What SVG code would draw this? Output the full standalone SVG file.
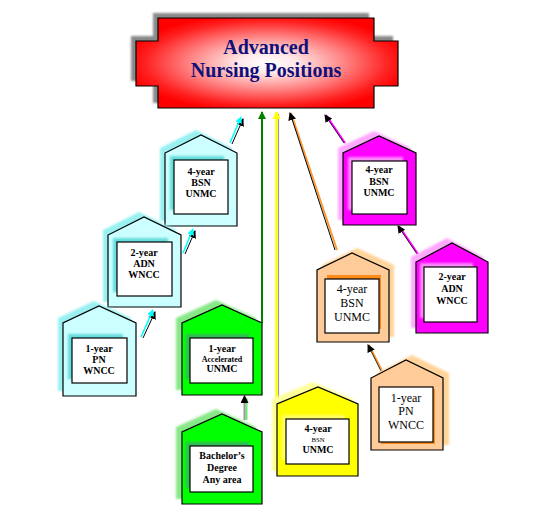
<svg xmlns="http://www.w3.org/2000/svg" width="534" height="508" viewBox="0 0 534 508">
<defs>
<radialGradient id="redGrad" cx="0.5" cy="0.5" r="0.55">
<stop offset="0" stop-color="#ffffff"/>
<stop offset="0.2" stop-color="#ffe8e8"/>
<stop offset="0.55" stop-color="#ff8080"/>
<stop offset="0.85" stop-color="#ff2020"/>
<stop offset="1" stop-color="#ff0000"/>
</radialGradient>
<filter id="soft" x="-20%" y="-20%" width="140%" height="140%">
<feGaussianBlur stdDeviation="1.3"/>
</filter>
<marker id="hCyan" viewBox="0 0 8 8" refX="7" refY="4" markerWidth="7" markerHeight="7" markerUnits="userSpaceOnUse" orient="auto">
<path d="M0,0 L8,4 L0,8 z" fill="#00ffff"/>
</marker>
<marker id="hGreen" viewBox="0 0 8 8" refX="7" refY="4" markerWidth="8" markerHeight="8" markerUnits="userSpaceOnUse" orient="auto">
<path d="M0,0 L8,4 L0,8 z" fill="#008000"/>
</marker>
<marker id="hYellow" viewBox="0 0 8 8" refX="7" refY="4" markerWidth="8" markerHeight="8" markerUnits="userSpaceOnUse" orient="auto">
<path d="M0,0 L8,4 L0,8 z" fill="#ffff00"/>
</marker>
<marker id="hBlack" viewBox="0 0 8 8" refX="7" refY="4" markerWidth="8" markerHeight="8" markerUnits="userSpaceOnUse" orient="auto">
<path d="M0,0 L8,4 L0,8 z" fill="#000000"/>
</marker>
</defs>
<style>
.house { stroke:#000; stroke-width:1.2; }
.inner { fill:#fff; stroke:#000; stroke-width:1.2; }
.sh { filter:url(#soft); }
.cyan { fill:#ccffff; } .cyanS { fill:#99f0f0; } .cyanI { fill:#66dddd; }
.green { fill:#00ff00; } .greenS { fill:#88e888; } .greenI { fill:#33bb55; }
.yellow { fill:#ffff00; } .yellowS { fill:#ffff99; } .yellowI { fill:#ffff66; }
.peach { fill:#ffcc99; } .peachS { fill:#ffd49a; } .peachI { fill:#ff8c1a; }
.mag { fill:#ff00ff; } .magS { fill:#ffa8ff; } .magI { fill:#ff88ff; }
.t { font-family:"Liberation Serif","Times New Roman",serif; font-size:10px; font-weight:bold; text-anchor:middle; fill:#000; }
.tr { font-size:12px; font-weight:normal; }
.ts { font-size:8px; }
.tn { font-size:6.8px; font-weight:normal; }
.title { font-family:"Liberation Serif","Times New Roman",serif; font-size:20px; font-weight:bold; text-anchor:middle; fill:#10107a; }
.ln { fill:none; stroke-linecap:butt; }
</style>

<g id="title">
<polygon class="sh" fill="#8a8a8a" transform="translate(-5,-5)" points="158,18 374,18 374,41 398,41 398,86 374,86 374,108 158,108 158,86 136,86 136,41 158,41"/>
<polygon fill="url(#redGrad)" stroke="#000" stroke-width="1.2" points="158,18 374,18 374,41 398,41 398,86 374,86 374,108 158,108 158,86 136,86 136,41 158,41"/>
<text class="title" x="266" y="54">Advanced</text>
<text class="title" x="266" y="77">Nursing Positions</text>
</g>

<g id="connectors">
<line class="ln" x1="143" y1="338" x2="155" y2="312" stroke="#000" stroke-width="1" marker-end="url(#hBlack)"/>
<line class="ln" x1="141" y1="337" x2="153" y2="310" stroke="#00ffff" stroke-width="1.6" marker-end="url(#hCyan)"/>
<line class="ln" x1="185" y1="254" x2="195" y2="231" stroke="#000" stroke-width="1" marker-end="url(#hBlack)"/>
<line class="ln" x1="183" y1="253" x2="193" y2="229" stroke="#00ffff" stroke-width="1.6" marker-end="url(#hCyan)"/>
<line class="ln" x1="232" y1="144" x2="243" y2="119" stroke="#000" stroke-width="1" marker-end="url(#hBlack)"/>
<line class="ln" x1="230" y1="143" x2="241" y2="117" stroke="#00ffff" stroke-width="1.6" marker-end="url(#hCyan)"/>
<line class="ln" x1="262" y1="323" x2="262" y2="112" stroke="#008000" stroke-width="2" marker-end="url(#hGreen)"/>
<line class="ln" x1="246.5" y1="420" x2="246.5" y2="398" stroke="#66ee66" stroke-width="2"/>
<line class="ln" x1="244.5" y1="420" x2="244.5" y2="396" stroke="#999999" stroke-width="2" marker-end="url(#hBlack)"/>
<line class="ln" x1="278.5" y1="398" x2="278.5" y2="114" stroke="#999999" stroke-width="1.2"/>
<line class="ln" x1="276.5" y1="398" x2="276.5" y2="112" stroke="#ffff00" stroke-width="2.5" marker-end="url(#hYellow)"/>
<line class="ln" x1="337" y1="250" x2="291" y2="113" stroke="#ff9933" stroke-width="2"/>
<line class="ln" x1="335" y1="250" x2="290" y2="113" stroke="#000" stroke-width="1" marker-end="url(#hBlack)"/>
<line class="ln" x1="345" y1="143" x2="326" y2="115" stroke="#ff00ff" stroke-width="2"/>
<line class="ln" x1="344" y1="143" x2="325" y2="115" stroke="#000" stroke-width="0.8" marker-end="url(#hBlack)"/>
<line class="ln" x1="418" y1="254" x2="399" y2="226" stroke="#ff00ff" stroke-width="2"/>
<line class="ln" x1="417" y1="254" x2="398" y2="226" stroke="#000" stroke-width="0.8" marker-end="url(#hBlack)"/>
<line class="ln" x1="382" y1="371" x2="369" y2="345" stroke="#ff9933" stroke-width="2"/>
<line class="ln" x1="381" y1="371" x2="368" y2="345" stroke="#000" stroke-width="0.8" marker-end="url(#hBlack)"/>
</g>

<g id="house-bsn-cyan">
<polygon class="cyanS sh" transform="translate(-5,-5)" points="165,226 165,153 201,135 237,153 237,226"/>
<polygon class="house cyan" points="165,226 165,153 201,135 237,153 237,226"/>
<rect class="cyanI sh" x="170" y="156" width="54" height="54"/>
<rect class="inner" x="174" y="160" width="54" height="54"/>
<text class="t" x="201" y="175">4-year</text>
<text class="t" x="201" y="186">BSN</text>
<text class="t" x="201" y="197">UNMC</text>
</g>

<g id="house-adn-cyan">
<polygon class="cyanS sh" transform="translate(-5,-5)" points="108,307 108,235 144,217 181,235 181,307"/>
<polygon class="house cyan" points="108,307 108,235 144,217 181,235 181,307"/>
<rect class="cyanI sh" x="113" y="238" width="55" height="54"/>
<rect class="inner" x="117" y="242" width="55" height="54"/>
<text class="t" x="144" y="256">2-year</text>
<text class="t" x="144" y="267">ADN</text>
<text class="t" x="144" y="278">WNCC</text>
</g>

<g id="house-pn-cyan">
<polygon class="cyanS sh" transform="translate(-5,-5)" points="63,396 63,323 99,306 136,323 136,396"/>
<polygon class="house cyan" points="63,396 63,323 99,306 136,323 136,396"/>
<rect class="cyanI sh" x="68" y="334" width="55" height="45"/>
<rect class="inner" x="72" y="338" width="55" height="45"/>
<text class="t" x="99" y="352">1-year</text>
<text class="t" x="99" y="363">PN</text>
<text class="t" x="99" y="374">WNCC</text>
</g>

<g id="house-accel-green">
<polygon class="greenS sh" transform="translate(-6,-5)" points="182,395 182,323 222,305 262,323 262,395"/>
<polygon class="house green" points="182,395 182,323 222,305 262,323 262,395"/>
<rect class="greenI sh" x="186" y="334" width="63" height="45"/>
<rect class="inner" x="190" y="338" width="63" height="45"/>
<text class="t" x="222" y="352">1-year</text>
<text class="t ts" x="222" y="361.5">Accelerated</text>
<text class="t" x="222" y="372">UNMC</text>
</g>

<g id="house-bachelor-green">
<polygon class="greenS sh" transform="translate(-6,-5)" points="182,504 182,432 222,414 262,432 262,504"/>
<polygon class="house green" points="182,504 182,432 222,414 262,432 262,504"/>
<rect class="greenI sh" x="186" y="442" width="63" height="46"/>
<rect class="inner" x="190" y="446" width="63" height="46"/>
<text class="t" x="222" y="459">Bachelor’s</text>
<text class="t" x="222" y="471">Degree</text>
<text class="t" x="222" y="483">Any area</text>
</g>

<g id="house-bsn-yellow">
<polygon class="yellowS sh" transform="translate(-5,-5)" points="277,476 277,404 318,387 358,404 358,476"/>
<polygon class="house yellow" points="277,476 277,404 318,387 358,404 358,476"/>
<rect class="yellowI sh" x="282" y="415" width="63" height="45"/>
<rect class="inner" x="286" y="419" width="63" height="45"/>
<text class="t" x="318" y="432">4-year</text>
<text class="t tn" x="318" y="442">BSN</text>
<text class="t" x="318" y="453">UNMC</text>
</g>

<g id="house-pn-peach">
<polygon class="peachS sh" transform="translate(6,-5)" points="371,450 371,378 406,360 443,378 443,450"/>
<polygon class="house peach" points="371,450 371,378 406,360 443,378 443,450"/>
<rect class="peachI" x="381" y="389" width="54" height="55"/>
<rect class="inner" x="379" y="387" width="54" height="55"/>
<text class="t tr" x="406" y="402">1-year</text>
<text class="t tr" x="406" y="415">PN</text>
<text class="t tr" x="406" y="429">WNCC</text>
</g>

<g id="house-bsn-peach">
<polygon class="peachS sh" transform="translate(5,-5)" points="317,342 317,270 352,253 389,270 389,342"/>
<polygon class="house peach" points="317,342 317,270 352,253 389,270 389,342"/>
<rect class="peachI" x="327" y="275" width="54" height="54"/>
<rect class="inner" x="325" y="279" width="54" height="54"/>
<text class="t tr" x="352" y="293">4-year</text>
<text class="t tr" x="352" y="307">BSN</text>
<text class="t tr" x="352" y="321">UNMC</text>
</g>

<g id="house-bsn-magenta">
<polygon class="magS sh" transform="translate(-5,-5)" points="343,225 343,153 379,136 416,153 416,225"/>
<polygon class="house mag" points="343,225 343,153 379,136 416,153 416,225"/>
<rect class="magI sh" x="348" y="157" width="55" height="53"/>
<rect class="inner" x="352" y="161" width="55" height="53"/>
<text class="t" x="379" y="173">4-year</text>
<text class="t" x="379" y="184.5">BSN</text>
<text class="t" x="379" y="196">UNMC</text>
</g>

<g id="house-adn-magenta">
<polygon class="magS sh" transform="translate(-5,-5)" points="416,333 416,262 452,243 488,262 488,333"/>
<polygon class="house mag" points="416,333 416,262 452,243 488,262 488,333"/>
<rect class="magI sh" x="420" y="263" width="53" height="55"/>
<rect class="inner" x="424" y="267" width="53" height="55"/>
<text class="t" x="452" y="280">2-year</text>
<text class="t" x="452" y="292">ADN</text>
<text class="t" x="452" y="304">WNCC</text>
</g>
</svg>
